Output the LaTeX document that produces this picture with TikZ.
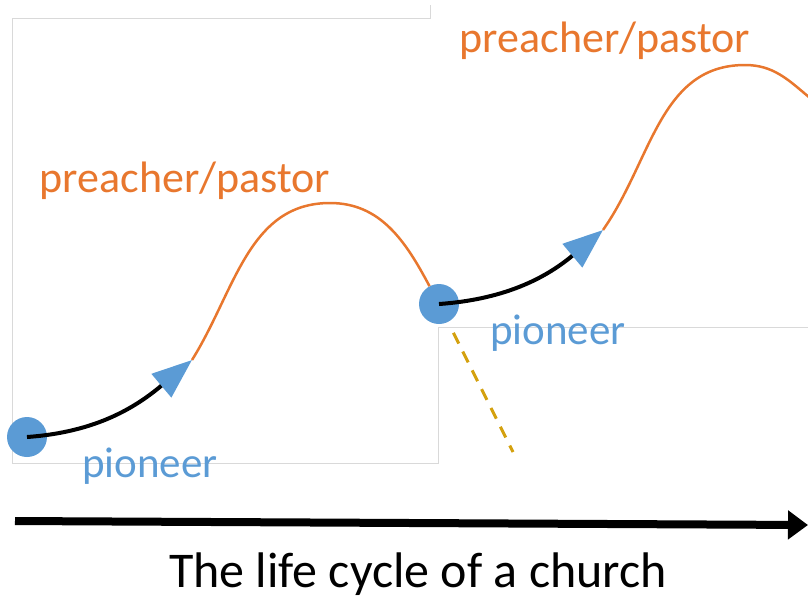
\documentclass[tikz,border=0pt]{standalone}
\usepackage{fontspec}
\setmainfont{Carlito}
\usetikzlibrary{arrows.meta}
\definecolor{pioneerblue}{HTML}{5B9BD5}
\definecolor{pastororange}{HTML}{E8772E}
\definecolor{splitgold}{HTML}{D4A10F}
\tikzset{
  dot/.style={circle,fill=pioneerblue,inner sep=0pt,minimum size=40pt},
  pioneerline/.style={line width=4pt,-{Triangle[length=40pt,width=30pt,color=pioneerblue]}},
  pastorline/.style={pastororange,line width=2.5pt},
  splitline/.style={splitgold,line width=3pt,dash pattern=on 12pt off 9pt},
  frameline/.style={gray!30,line width=0.8pt},
  pastorlabel/.style={pastororange,font=\fontsize{44}{48}\selectfont},
  pioneerlabel/.style={pioneerblue,font=\fontsize{43}{48}\selectfont}
}
\begin{document}
\begin{tikzpicture}[x=1pt,y=-1pt]
\useasboundingbox (0,0) rectangle (808,598);
\draw[frameline] (430,5) -- (430,18) -- (12,18) -- (12,463) -- (438,463) -- (438,327) -- (808,327);
\node[dot] (c1) at (27,437) {};
\node[dot] (c2) at (439,304) {};
\coordinate (tip1) at (192,360);
\coordinate (peak1) at (330,203);
\coordinate (tip2) at (603,230);
\coordinate (peak2) at (745,65);
\coordinate (edge) at (810,98);
\coordinate (dropend) at (513,452);
\draw[pastorline] (tip1) to[out=58,in=180] (peak1) to[out=0,in=118] (c2);
\draw[pastorline] (tip2) to[out=55,in=180] (peak2) to[out=0,in=140] (edge);
\draw[pioneerline] (c1.center) to[out=4,in=220] (tip1);
\draw[pioneerline] (c2.center) to[out=4,in=220] (tip2);
\draw[splitline,shorten <=12pt] (c2) -- (dropend);
\node[pastorlabel] (pastor1) at (185,181) {preacher/pastor};
\node[pastorlabel] (pastor2) at (605,41) {preacher/pastor};
\node[pioneerlabel] (pioneer1) at (150,466) {pioneer};
\node[pioneerlabel] (pioneer2) at (558,333) {pioneer};
\coordinate (timestart) at (15,521);
\coordinate (timeend) at (808,525);
\draw[line width=8pt,-{Triangle[length=20pt,width=28pt]}] (timestart) -- (timeend);
\node[font=\fontsize{50}{56}\selectfont] (title) at (418,574) {The life cycle of a church};
\end{tikzpicture}
\end{document}
